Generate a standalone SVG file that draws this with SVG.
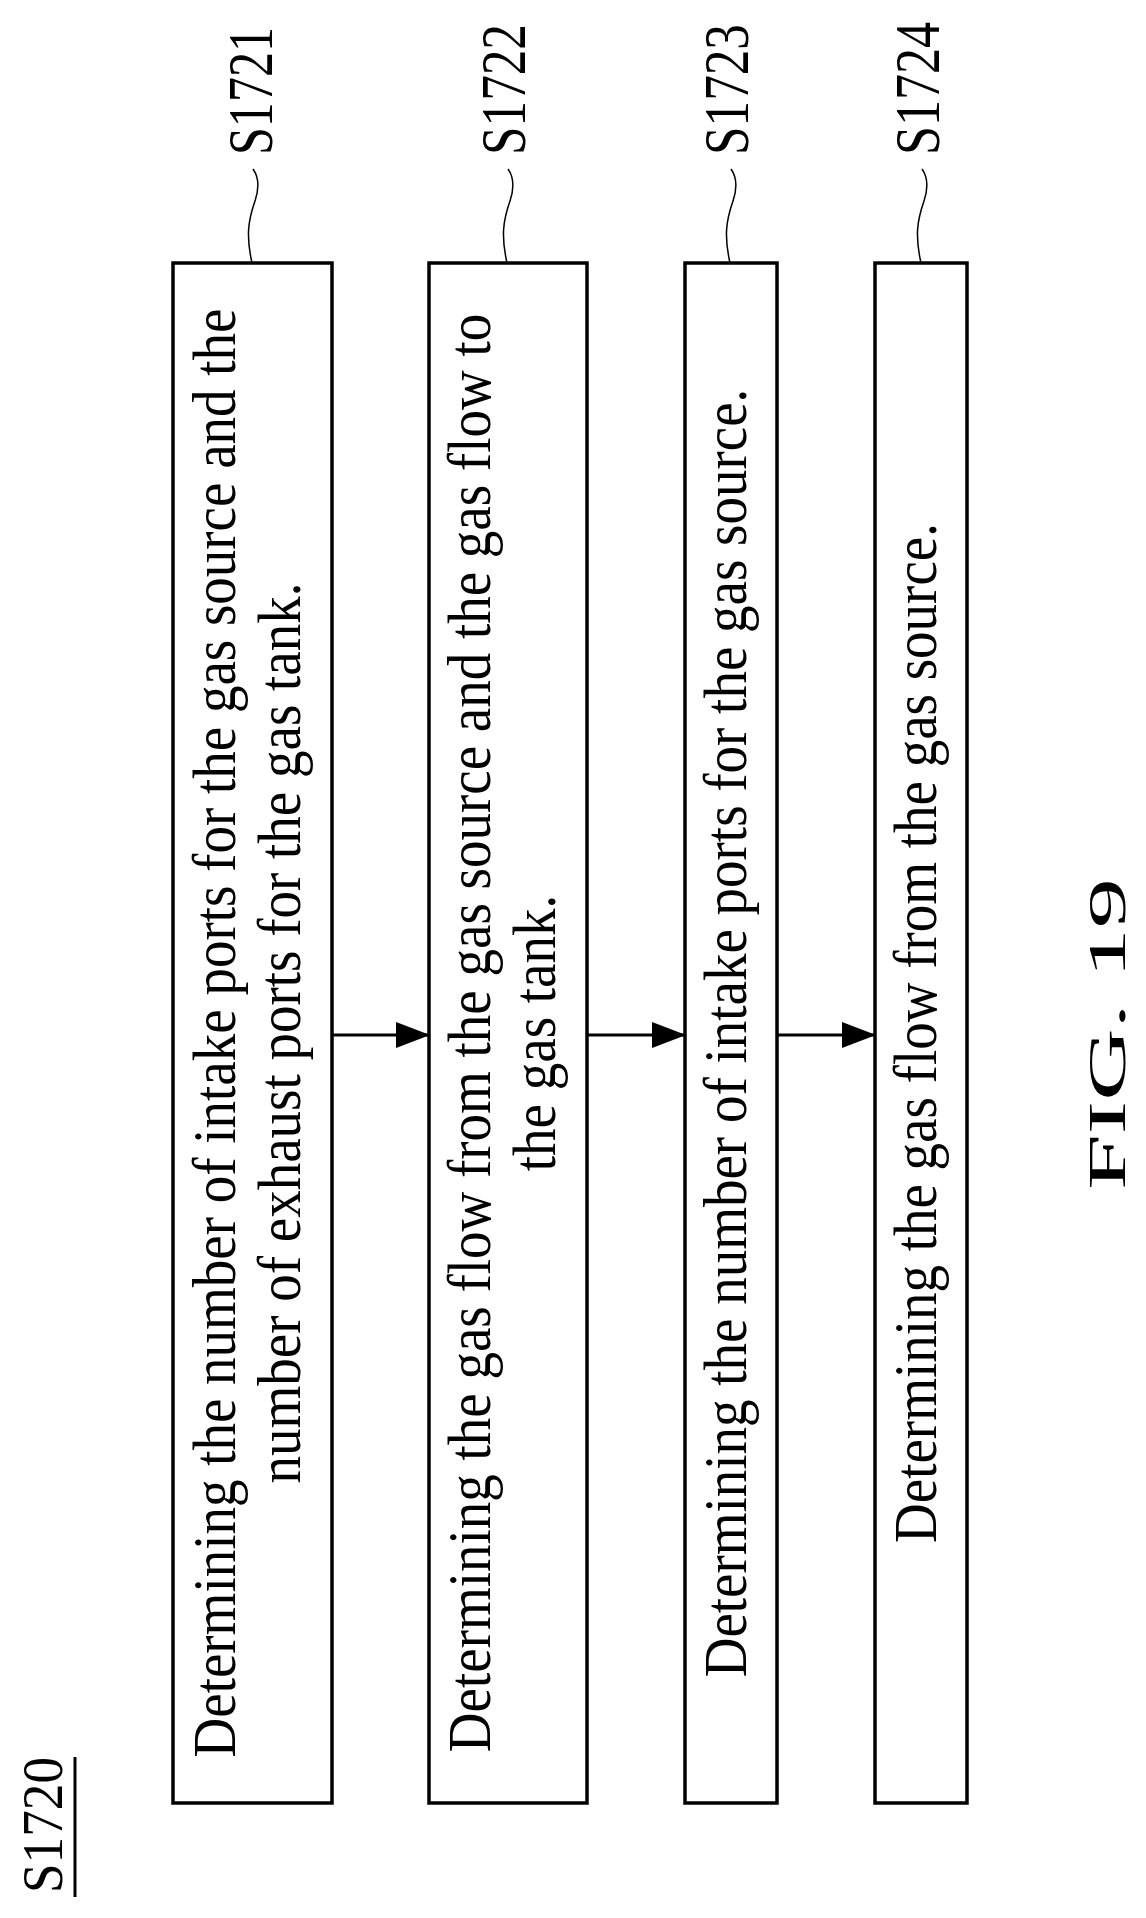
<svg xmlns="http://www.w3.org/2000/svg" width="1146" height="1918" viewBox="0 0 1146 1918">
<style>
.box{fill:#fff;stroke:#000;stroke-width:3.5}
.t{font-family:"Liberation Serif","Times New Roman",serif;font-size:55px;fill:#000;text-anchor:middle}
.lbl{font-family:"Liberation Serif","Times New Roman",serif;font-size:50px;fill:#000}
.lead{fill:none;stroke:#000;stroke-width:1.5}
.conn{stroke:#000;stroke-width:3;fill:none}
</style>
<defs>
<marker id="ah" markerUnits="userSpaceOnUse" markerWidth="34" markerHeight="26" refX="33" refY="13" orient="auto">
<path d="M0,0 L34,13 L0,26 Z" fill="#000"/>
</marker>
<path id="wave" d="M0,0 C-6,-27 -4,-42 3,-62 C8,-77 6,-87 1,-94"/>
</defs>
<rect width="1146" height="1918" fill="#fff"/>
<g id="title">
<text class="lbl" font-size="53" textLength="136" lengthAdjust="spacingAndGlyphs" transform="translate(62,1893) scale(1.14,1) rotate(-90)">S1720</text>
<line x1="75" y1="1757" x2="75" y2="1897" stroke="#000" stroke-width="3"/>
</g>
<g id="S1721">
<rect class="box" x="173" y="263" width="159" height="1540"/>
<text class="t" transform="translate(235,1033) scale(1.1,1) rotate(-90)">Determining the number of intake ports for the gas source and the</text>
<text class="t" transform="translate(300,1033) scale(1.1,1) rotate(-90)">number of exhaust ports for the gas tank.</text>
<use href="#wave" class="lead" transform="translate(252,263)"/>
<text class="lbl" textLength="128" lengthAdjust="spacingAndGlyphs" transform="translate(272,155) scale(1.27,1) rotate(-90)">S1721</text>
</g>
<g id="S1722">
<rect class="box" x="429" y="263" width="158" height="1540"/>
<text class="t" transform="translate(490,1033) scale(1.1,1) rotate(-90)">Determining the gas flow from the gas source and the gas flow to</text>
<text class="t" transform="translate(555,1033) scale(1.1,1) rotate(-90)">the gas tank.</text>
<use href="#wave" class="lead" transform="translate(507,263)"/>
<text class="lbl" textLength="131" lengthAdjust="spacingAndGlyphs" transform="translate(525,155) scale(1.27,1) rotate(-90)">S1722</text>
</g>
<g id="S1723">
<rect class="box" x="685" y="263" width="92" height="1540"/>
<text class="t" transform="translate(746,1033) scale(1.1,1) rotate(-90)">Determining the number of intake ports for the gas source.</text>
<use href="#wave" class="lead" transform="translate(730,263)"/>
<text class="lbl" textLength="131" lengthAdjust="spacingAndGlyphs" transform="translate(748,155) scale(1.27,1) rotate(-90)">S1723</text>
</g>
<g id="S1724">
<rect class="box" x="875" y="263" width="92" height="1540"/>
<text class="t" transform="translate(936,1033) scale(1.1,1) rotate(-90)">Determining the gas flow from the gas source.</text>
<use href="#wave" class="lead" transform="translate(921,263)"/>
<text class="lbl" textLength="133" lengthAdjust="spacingAndGlyphs" transform="translate(939,155) scale(1.27,1) rotate(-90)">S1724</text>
</g>
<g id="connectors">
<line class="conn" x1="333" y1="1035" x2="429" y2="1035" marker-end="url(#ah)"/>
<line class="conn" x1="588" y1="1035" x2="685" y2="1035" marker-end="url(#ah)"/>
<line class="conn" x1="778" y1="1035" x2="875" y2="1035" marker-end="url(#ah)"/>
</g>
<g id="caption">
<text class="lbl" font-size="100" textLength="312" lengthAdjust="spacingAndGlyphs" transform="translate(1125,1190) scale(1.06,1) rotate(-90)">FIG. 19</text>
</g>
</svg>
